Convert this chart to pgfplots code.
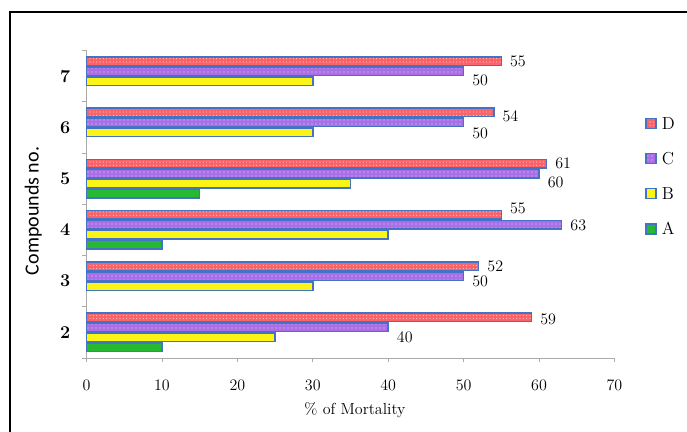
\documentclass[border=0pt]{standalone}
\usepackage{fontspec}
\usepackage{pgfplots}
\pgfplotsset{compat=1.18}
\usepackage{pgfplotstable}
\usetikzlibrary{patterns.meta}
\newfontfamily\calibri{Carlito}
\definecolor{edge}{RGB}{68,114,196}
\definecolor{cA}{RGB}{40,185,50}
\definecolor{cB}{RGB}{250,245,20}
\definecolor{cC}{RGB}{170,110,230}
\definecolor{cD}{RGB}{250,100,105}
\definecolor{axgray}{RGB}{170,170,170}
\newcommand\lab[2]{\raisebox{\dimexpr#1pt-4pt\relax}[0pt][0pt]{#2}}
\pgfplotsset{sqlegend/.style={legend image code/.code={\draw[##1] (0pt,-3.75pt) rectangle (7.5pt,3.75pt);}}}

\pgfplotstableread{
y x
0 10
2 10
3 15
}\tA
\pgfplotstableread{
y x
0 25
1 30
2 40
3 35
4 30
5 30
}\tB
\pgfplotstableread{
y x lab
0 40 \lab{-7.5}{40}
1 50 \lab{-3.75}{50}
2 63 \lab{0}{63}
3 60 \lab{-6.75}{60}
4 50 \lab{-8.25}{50}
5 50 \lab{-6.75}{50}
}\tC
\pgfplotstableread{
y x lab
0 59 \lab{-1.5}{59}
1 52 \lab{0}{52}
2 55 \lab{5.25}{55}
3 61 \lab{0}{61}
4 54 \lab{-3}{54}
5 55 \lab{0}{55}
}\tD

\begin{document}
\begin{tikzpicture}
\useasboundingbox (-64.875pt,-55.5pt) rectangle (450.375pt,268.5pt);
\draw[line width=1.1pt, black] (-57.375pt,-60pt) -- (-57.375pt,259.5pt) -- (460pt,259.5pt);
\begin{axis}[
  at={(0,0)}, anchor=south west,
  scale only axis, width=396pt, height=230.7pt,
  xbar=1.1pt, bar width=6.4pt,
  xmin=0, xmax=70, ymin=-0.5, ymax=5.5,
  axis x line*=bottom, axis y line*=left,
  axis line style={draw=axgray, line width=0.6pt, -},
  xtick={0,10,...,70},
  tick align=outside,
  major tick length=3pt,
  xtick style={draw=axgray, line width=0.6pt},
  ytick={0,...,5},
  yticklabels={2,3,4,5,6,7},
  ytick style={draw=none},
  extra y ticks={-0.5,0.5,1.5,2.5,3.5,4.5,5.5},
  extra y tick labels={},
  extra y tick style={ytick style={draw=axgray, line width=0.6pt}},
  tick label style={font=\fontsize{12}{14}\selectfont},
  xticklabel style={yshift=-10pt},
  yticklabel style={font=\bfseries\fontsize{13.5}{15}\selectfont, inner sep=0pt, xshift=-9pt},
  xlabel={\% of Mortality},
  ylabel={\calibri Compounds no.},
  every axis x label/.style={at={(axis description cs:0.5085,-0.169)}, anchor=center, font=\fontsize{12}{14}\selectfont},
  every axis y label/.style={at={(axis description cs:-0.101,0.478)}, anchor=center, rotate=90, font=\fontsize{15}{17}\selectfont},
  reverse legend,
  legend style={at={(1.05,0.792)}, anchor=north west, draw=none, fill=none,
    font=\fontsize{13}{15}\selectfont, row sep=17.4pt, column sep=4pt,
    nodes={inner sep=0pt, text height=9pt, text depth=0pt}},
  legend cell align=left,
  clip=false,
]
\addplot[fill=cA, draw=edge, line width=1.1pt, sqlegend]
  table[x=x,y=y] {\tA};
\addlegendentry{A}
\addplot[fill=cB, draw=edge, line width=1.1pt, sqlegend]
  table[x=x,y=y] {\tB};
\addlegendentry{B}
\addplot[fill=cC, draw=edge, line width=1.1pt,
  postaction={pattern={Dots[distance=3pt, radius=0.45pt]}, pattern color=white!70!cC},
  sqlegend,
  point meta=explicit symbolic, nodes near coords,
  nodes near coords style={anchor=west, inner sep=0pt, xshift=6pt, font=\fontsize{12}{14}\selectfont, text=black}]
  table[x=x,y=y,meta=lab] {\tC};
\addlegendentry{C}
\addplot[fill=cD, draw=edge, line width=1.1pt,
  postaction={pattern={Dots[distance=2.5pt, radius=0.4pt]}, pattern color=white!75!cD},
  sqlegend,
  point meta=explicit symbolic, nodes near coords,
  nodes near coords style={anchor=west, inner sep=0pt, xshift=6pt, font=\fontsize{12}{14}\selectfont, text=black}]
  table[x=x,y=y,meta=lab] {\tD};
\addlegendentry{D}
\end{axis}
\end{tikzpicture}
\end{document}
